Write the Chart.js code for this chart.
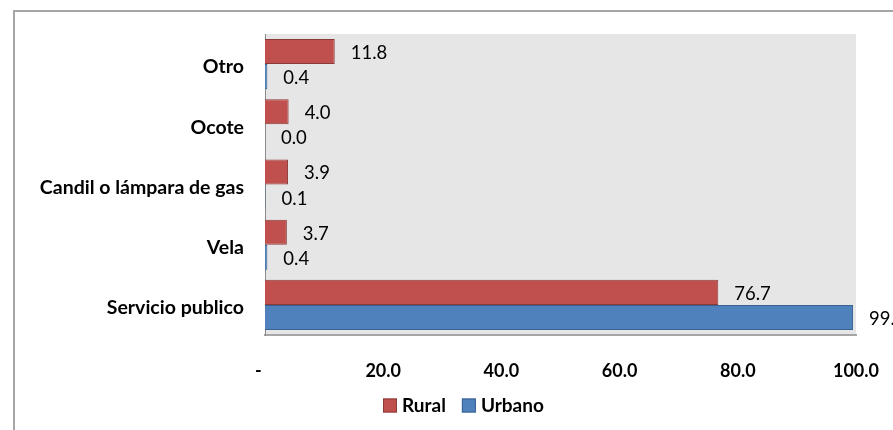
<!DOCTYPE html>
<html>
<head>
<meta charset="utf-8">
<script src="https://cdn.jsdelivr.net/npm/chart.js@4.4.0/dist/chart.umd.min.js"></script>
<style>
  html, body { margin: 0; padding: 0; background: #fff; }
  #wrap { width: 893px; height: 430px; position: relative; }
</style>
</head>
<body>
<div id="wrap"><canvas id="c" width="893" height="430"></canvas></div>
<script>
const categories = ["Otro", "Ocote", "Candil o lámpara de gas", "Vela", "Servicio publico"];
const seriesNames = ["Rural", "Urbano"];
const ruralValues = [11.8, 4.0, 3.9, 3.7, 76.7];
const urbanoValues = [0.4, 0.0, 0.1, 0.4, 99.5];
const xTicks = [0, 20, 40, 60, 80, 100];

const FONT = "Lato, 'Open Sans', sans-serif";

const plotBg = {
  id: 'plotBg',
  beforeDraw(chart) {
    const {ctx, chartArea: a} = chart;
    ctx.save();
    ctx.fillStyle = '#e6e6e6';
    ctx.fillRect(a.left, a.top, a.right - a.left, a.bottom - a.top);
    ctx.restore();
  },
  afterDraw(chart) {
    const ctx = chart.ctx;
    ctx.save();
    ctx.strokeStyle = '#a6a6a6';
    ctx.lineWidth = 2;
    ctx.beginPath();
    ctx.moveTo(14, 430);
    ctx.lineTo(14, 11);
    ctx.lineTo(893, 11);
    ctx.stroke();
    ctx.restore();
  }
};

const valueLabels = {
  id: 'valueLabels',
  afterDatasetsDraw(chart) {
    const ctx = chart.ctx;
    ctx.save();
    ctx.font = "18.5px " + FONT;
    ctx.fillStyle = '#000';
    ctx.textAlign = 'left';
    ctx.textBaseline = 'middle';
    chart.data.datasets.forEach((ds, di) => {
      const meta = chart.getDatasetMeta(di);
      meta.data.forEach((bar, i) => {
        ctx.fillText(ds.data[i].toFixed(1), bar.x + 16, bar.y + 1.5);
      });
    });
    ctx.restore();
  }
};

const customLegend = {
  id: 'customLegend',
  afterDraw(chart) {
    const ctx = chart.ctx;
    ctx.save();
    ctx.font = "bold 19px " + FONT;
    ctx.textBaseline = 'middle';
    ctx.textAlign = 'left';
    let x = 383;
    const y = 405.5;
    chart.data.datasets.forEach((ds) => {
      ctx.fillStyle = ds.backgroundColor;
      ctx.strokeStyle = ds.borderColor;
      ctx.lineWidth = 1;
      ctx.fillRect(x, y - 7, 14, 14);
      ctx.strokeRect(x + 0.5, y - 6.5, 13, 13);
      ctx.fillStyle = '#000';
      ctx.fillText(ds.label, x + 19, y);
      x += 19 + ctx.measureText(ds.label).width + 16;
    });
    ctx.restore();
  }
};

new Chart(document.getElementById('c'), {
  type: 'bar',
  data: {
    labels: categories,
    datasets: [
      { label: seriesNames[0], data: ruralValues, backgroundColor: '#c0504d', borderColor: '#8c3a37', borderWidth: 1 },
      { label: seriesNames[1], data: urbanoValues, backgroundColor: '#4f81bd', borderColor: '#3a6192', borderWidth: 1 }
    ]
  },
  options: {
    indexAxis: 'y',
    responsive: false,
    animation: false,
    events: [],
    layout: { padding: { left: 0, top: 34, right: 37, bottom: 0 } },
    categoryPercentage: 0.833,
    barPercentage: 1.0,
    plugins: { legend: { display: false }, tooltip: { enabled: false } },
    scales: {
      x: {
        min: 0, max: 100,
        afterBuildTicks(scale) { scale.ticks = xTicks.map(v => ({ value: v })); },
        afterFit(scale) {
          scale.height = 95;
          scale.paddingLeft = 0; scale.paddingRight = 0;
        },
        grid: { display: false, drawTicks: false },
        border: { display: true, color: '#a6a6a6', width: 2 },
        ticks: {
          padding: 25,
          color: '#000',
          font: { family: FONT, size: 18, weight: 'bold' },
          callback: (v) => v === 0 ? '-   ' : Number(v).toFixed(1)
        }
      },
      y: {
        afterFit(scale) {
          scale.width = 265;
          scale.paddingTop = 0; scale.paddingBottom = 0;
        },
        grid: { display: false, drawTicks: false },
        border: { display: true, color: '#8c8c8c', width: 1 },
        ticks: {
          padding: 21,
          labelOffset: 3,
          color: '#000',
          font: { family: FONT, size: 19.5, weight: 'bold' }
        }
      }
    }
  },
  plugins: [plotBg, valueLabels, customLegend]
});
</script>
</body>
</html>
